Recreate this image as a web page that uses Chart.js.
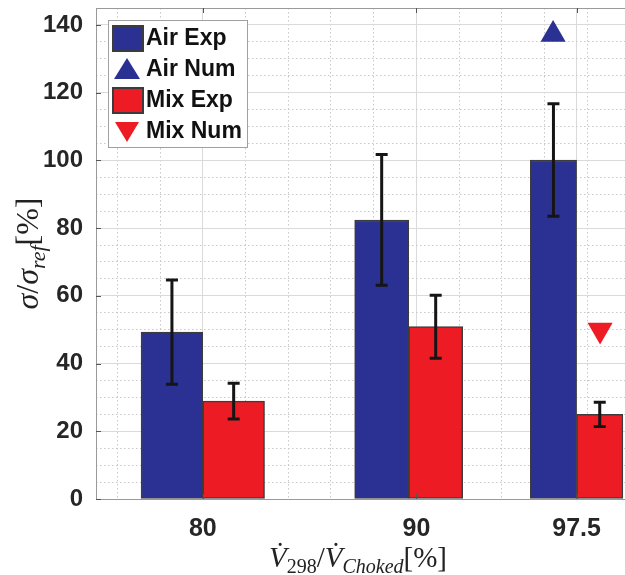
<!DOCTYPE html>
<html>
<head>
<meta charset="utf-8">
<script src="https://cdn.jsdelivr.net/npm/chart.js@4"></script>
<style>
  html, body { margin: 0; padding: 0; background: #fff; overflow: hidden; }
  #wrap { width: 640px; height: 575px; }
</style>
</head>
<body>
<div id="wrap"><canvas id="chartSigma" width="640" height="575"></canvas></div>
<script>
// --- data ---
const flowRatio = [80, 90, 97.5];          // V298 / Vchoked [%]
const airExp = [49.3, 82.4, 100.1];
const airErr = [15.4, 19.3, 16.6];
const mixExp = [28.9, 50.9, 25.0];
const mixErr = [5.3, 9.3, 3.6];
// numerical results (only at 97.5, drawn over each bar)
const airNumX = [96.4];
const airNumY = [137.2];
const mixNumX = [98.6];
const mixNumY = [49.9];
// ticks
const xTickLabels = [80, 90, 97.5];
const xMinorTicks = [76, 78, 80, 82, 84, 86, 88, 90, 92, 94, 96, 98, 100];
const yTickLabels = [0, 20, 40, 60, 80, 100, 120, 140];

const BLUE = "#2b3192";
const RED = "#ed1c24";
const SANS = '"Liberation Sans", Arial, sans-serif';
const SERIF = '"Liberation Serif", "Times New Roman", serif';

// error bars on top of the bars
const errorBars = {
  id: "errorBars",
  afterDatasetsDraw(chart) {
    const ctx = chart.ctx;
    const y = chart.scales.y;
    chart.data.datasets.forEach((ds, di) => {
      if (!ds.errors) return;
      const meta = chart.getDatasetMeta(di);
      ctx.save();
      ctx.strokeStyle = "#151515";
      ctx.lineWidth = 3;
      meta.data.forEach((bar, i) => {
        const v = ds.data[i].y, e = ds.errors[i];
        const top = y.getPixelForValue(v + e), bot = y.getPixelForValue(v - e);
        ctx.beginPath();
        ctx.moveTo(bar.x, top); ctx.lineTo(bar.x, bot);
        ctx.moveTo(bar.x - 6, top); ctx.lineTo(bar.x + 6, top);
        ctx.moveTo(bar.x - 6, bot); ctx.lineTo(bar.x + 6, bot);
        ctx.stroke();
      });
      ctx.restore();
    });
  }
};

function drawRich(ctx, parts, cx, baseline) {
  let w = 0;
  parts.forEach(p => { ctx.font = p.f; p.w = ctx.measureText(p.t).width; w += p.w; });
  let x = cx - w / 2;
  parts.forEach(p => {
    ctx.font = p.f;
    ctx.fillText(p.t, x, baseline + (p.dy || 0));
    x += p.w;
  });
}

// box, inward ticks, axis titles and legend (matlab look)
const decorations = {
  id: "decorations",
  afterDraw(chart) {
    const ctx = chart.ctx;
    const a = chart.chartArea;
    const xs = chart.scales.x, ys = chart.scales.y;
    ctx.save();
    ctx.strokeStyle = "#9a9a9a";
    ctx.lineWidth = 1;
    ctx.strokeRect(a.left + 0.5, a.top + 0.5, a.right - a.left, a.bottom - a.top);
    ctx.strokeStyle = "#555";
    ctx.beginPath();
    yTickLabels.forEach(v => {
      const py = Math.round(ys.getPixelForValue(v)) + 0.5;
      ctx.moveTo(a.left, py); ctx.lineTo(a.left + 5, py);
    });
    xTickLabels.forEach(v => {
      const px = Math.round(xs.getPixelForValue(v)) + 0.5;
      ctx.moveTo(px, a.top); ctx.lineTo(px, a.top + 5);
      ctx.moveTo(px, a.bottom); ctx.lineTo(px, a.bottom - 5);
    });
    ctx.stroke();

    // axis titles
    ctx.fillStyle = "#222";
    ctx.textBaseline = "alphabetic";
    drawRich(ctx, [
      { t: "V\u0307", f: "italic 29px " + SERIF },
      { t: "298", f: "20px " + SERIF, dy: 6 },
      { t: "/", f: "29px " + SERIF },
      { t: "V\u0307", f: "italic 29px " + SERIF },
      { t: "Choked", f: "italic 20px " + SERIF, dy: 6 },
      { t: "[%]", f: "29px " + SERIF }
    ], 358, 567);
    ctx.save();
    ctx.translate(38, (a.top + a.bottom) / 2);
    ctx.rotate(-Math.PI / 2);
    drawRich(ctx, [
      { t: "\u03c3", f: "italic 32px " + SERIF },
      { t: "/", f: "32px " + SERIF },
      { t: "\u03c3", f: "italic 32px " + SERIF },
      { t: "ref", f: "italic 22px " + SERIF, dy: 7 },
      { t: "[%]", f: "32px " + SERIF }
    ], 0, 0);
    ctx.restore();

    // legend box inside the plot
    const lx = 108.5, ly = 20.5;
    ctx.fillStyle = "#fff";
    ctx.fillRect(lx, ly, 139, 127);
    ctx.strokeStyle = "#a0a0a0";
    ctx.strokeRect(lx, ly, 139, 127);
    const rows = [38, 69, 100, 131];
    chart.data.datasets.forEach((ds, i) => {
      const cy = rows[i];
      ctx.fillStyle = ds.backgroundColor;
      if (ds.type === "scatter") {
        ctx.beginPath();
        if (ds.rotation === 180) {
          ctx.moveTo(115, cy - 9); ctx.lineTo(139, cy - 9); ctx.lineTo(127, cy + 11);
        } else {
          ctx.moveTo(127, cy - 11); ctx.lineTo(140, cy + 10); ctx.lineTo(114, cy + 10);
        }
        ctx.closePath();
        ctx.fill();
      } else {
        ctx.fillRect(113, cy - 12, 30, 25);
        ctx.strokeStyle = "#3c3c3c";
        ctx.lineWidth = 2;
        ctx.strokeRect(113, cy - 12, 30, 25);
        ctx.lineWidth = 1;
      }
      ctx.fillStyle = "#111";
      ctx.font = "bold 23px " + SANS;
      ctx.textBaseline = "middle";
      ctx.fillText(ds.label, 146, cy + 1);
    });
    ctx.restore();
  }
};

new Chart(document.getElementById("chartSigma"), {
  type: "bar",
  data: {
    datasets: [
      {
        label: "Air Exp",
        data: flowRatio.map((x, i) => ({ x: x, y: airExp[i] })),
        errors: airErr,
        backgroundColor: BLUE,
        borderColor: "#3c3c3c",
        borderWidth: 1.5,
        borderSkipped: false
      },
      {
        type: "scatter",
        label: "Air Num",
        data: airNumX.map((x, i) => ({ x: x, y: airNumY[i] })),
        backgroundColor: BLUE,
        borderWidth: 0,
        pointStyle: "triangle",
        pointRadius: 14.5,
        rotation: 0
      },
      {
        label: "Mix Exp",
        data: flowRatio.map((x, i) => ({ x: x, y: mixExp[i] })),
        errors: mixErr,
        backgroundColor: RED,
        borderColor: "#3c3c3c",
        borderWidth: 1.5,
        borderSkipped: false
      },
      {
        type: "scatter",
        label: "Mix Num",
        data: mixNumX.map((x, i) => ({ x: x, y: mixNumY[i] })),
        backgroundColor: RED,
        borderWidth: 0,
        pointStyle: "triangle",
        pointRadius: 14.5,
        rotation: 180
      }
    ]
  },
  options: {
    responsive: false,
    animation: false,
    barThickness: "flex",
    categoryPercentage: 0.578,
    barPercentage: 1,
    layout: { autoPadding: false, padding: { top: 8, right: 10, left: 0, bottom: 0 } },
    plugins: { legend: { display: false }, tooltip: { enabled: false } },
    scales: {
      x: {
        type: "linear",
        min: 75,
        max: 100,
        offset: false,
        afterBuildTicks: (axis) => {
          const vals = xMinorTicks.concat(xTickLabels.filter(v => !xMinorTicks.includes(v)));
          axis.ticks = vals.sort((p, q) => p - q).map(v => ({ value: v }));
        },
        afterFit: (axis) => {
          axis.height = 76;
          axis.paddingLeft = 0;
          axis.paddingRight = 0;
        },
        border: {
          display: false,
          dash: (c) => (c.tick && xTickLabels.includes(c.tick.value) ? [] : [1.5, 2.5])
        },
        grid: {
          offset: false,
          drawTicks: false,
          color: (c) => (c.tick && xTickLabels.includes(c.tick.value) ? "#dadada" : "#c8c8c8")
        },
        ticks: {
          autoSkip: false,
          maxRotation: 0,
          padding: 15,
          color: "#262626",
          font: { family: SANS, size: 25, weight: "bold" },
          callback: (v) => (xTickLabels.includes(v) ? String(v) : "")
        }
      },
      y: {
        min: 0,
        max: 145,
        afterFit: (axis) => {
          axis.width = 96;
          axis.paddingTop = 0;
          axis.paddingBottom = 0;
        },
        border: {
          display: false,
          dash: (c) => (c.tick && c.tick.value % 20 === 0 ? [] : [1.5, 2.5])
        },
        grid: {
          drawTicks: false,
          color: (c) => (c.tick && c.tick.value % 20 === 0 ? "#dadada" : "#c8c8c8")
        },
        ticks: {
          stepSize: 5,
          autoSkip: false,
          padding: 13,
          color: "#262626",
          font: { family: SANS, size: 24, weight: "bold" },
          callback: (v) => (yTickLabels.includes(v) ? String(v) : "")
        }
      }
    }
  },
  plugins: [errorBars, decorations]
});
</script>
</body>
</html>
